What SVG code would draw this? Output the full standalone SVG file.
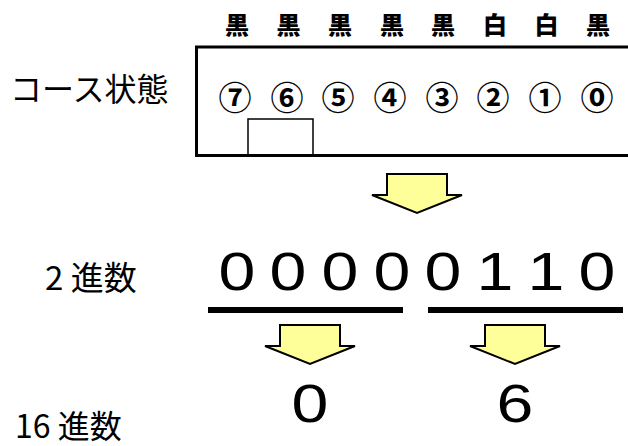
<svg xmlns="http://www.w3.org/2000/svg" width="628" height="446" viewBox="0 0 628 446">
<style>
.jp{font-family:"Noto Sans CJK JP","DejaVu Sans",sans-serif;fill:#000}
.lab{font-size:24px;font-weight:900;text-anchor:middle}
.circ{font-size:33px;font-weight:bold;text-anchor:middle}
.big{font-family:"Liberation Sans",Arial,sans-serif;font-size:53px;text-anchor:middle;fill:#000}
.arrow{fill:#FFFF99;stroke:#000;stroke-width:2;stroke-linejoin:miter}
.bar{fill:#000}
</style>
<defs>
<polygon id="arr" class="arrow" points="-30,0 30,0 30,21 45,21 0,39 -45,21 -30,21"/>
</defs>
<g id="course">
<text class="jp" x="10" y="101" font-size="32">コース状態</text>
<path d="M640 47 H196.5 V155.5 H640" fill="none" stroke="#000" stroke-width="3"/>
<rect x="248" y="119" width="65" height="36" fill="none" stroke="#000" stroke-width="1.5"/>
<text class="jp lab" x="237 288.6 340 392 443 495 546.6 598" y="34">黒黒黒黒黒白白黒</text>
<text class="jp circ" x="235 287 338 390 442 493 545 597" y="110">⑦⑥⑤④③②①⓪</text>
</g>
<g id="binary">
<text class="jp" x="45" y="290" font-size="33">2 進数</text>
<g transform="scale(1.25,1)">
<text class="big" x="189.6 230.4 272 313.6 354.4 396 436.8 477.6" y="290">00000110</text>
</g>
<rect class="bar" x="208" y="307" width="195" height="6"/>
<rect class="bar" x="428" y="307" width="195" height="6"/>
</g>
<g id="hex">
<text class="jp" x="15" y="438" font-size="32">16 進数</text>
<g transform="scale(1.25,1)">
<text class="big" x="248 412" y="422">06</text>
</g>
</g>
<g id="connectors">
<use href="#arr" x="417" y="174"/>
<use href="#arr" x="310" y="325"/>
<use href="#arr" x="515" y="325"/>
</g>
</svg>
